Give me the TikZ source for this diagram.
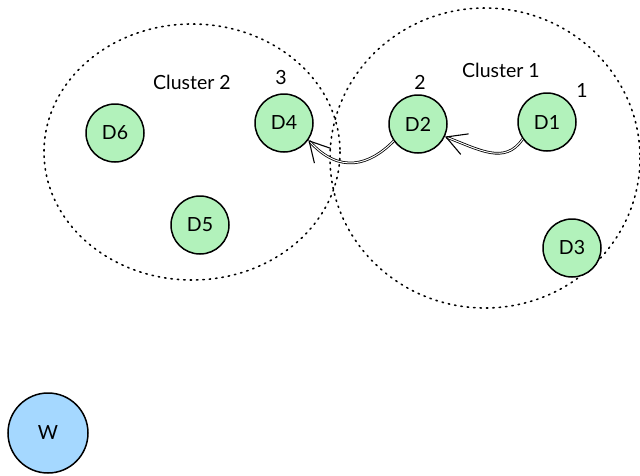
\documentclass[tikz,border=0pt]{standalone}
\usepackage{fontspec}
\setmainfont{Lato}
\usetikzlibrary{arrows.meta}
\definecolor{nodegreen}{HTML}{B2F2BB}
\definecolor{nodeblue}{HTML}{A5D8FF}
\begin{document}
\begin{tikzpicture}[x=1pt,y=-1pt,
  disk/.style={circle,draw=black,line width=1.5pt,fill=nodegreen,minimum size=58pt,inner sep=0pt,font=\fontsize{19.5}{22}\selectfont},
  wdisk/.style={disk,fill=nodeblue,minimum size=80pt},
  cluster/.style={draw=black,line width=1.6pt,dash pattern=on 1.4pt off 5pt,line cap=round},
  lbl/.style={font=\fontsize{19.5}{22}\selectfont,inner sep=0pt},
  flow/.style={draw=black,line width=0.8pt,double distance=1pt,-{Straight Barb[length=20pt,width=22pt,line width=1.1pt]}}]
\useasboundingbox (0,0) rectangle (640,475);
% cluster outlines
\draw[cluster] (192,152) ellipse [x radius=148, y radius=128];
\draw[cluster] (485,158) ellipse [x radius=155, y radius=150];
% devices
\node[disk] (D6) at (115,133) {D6};
\node[disk] (D5) at (200,225) {D5};
\node[disk] (D4) at (284,123) {D4};
\node[disk] (D2) at (418,124) {D2};
\node[disk] (D1) at (547,122) {D1};
\node[disk] (D3) at (572,248) {D3};
\node[wdisk] (W) at (48,433) {W};
% labels
\node[lbl] (c2) at (192,82) {Cluster 2};
\node[lbl] (n3) at (281,78) {3};
\node[lbl] (n2) at (420,82) {2};
\node[lbl] (c1) at (501,70) {Cluster 1};
\node[lbl] (n1) at (582,90) {1};
% hops
\draw[flow] (D1.-145) .. controls (505,165) and (480,150) .. (D2.-25);
\draw[flow] (D2.-145) .. controls (370,165) and (340,175) .. (D4.-35);
\end{tikzpicture}
\end{document}
